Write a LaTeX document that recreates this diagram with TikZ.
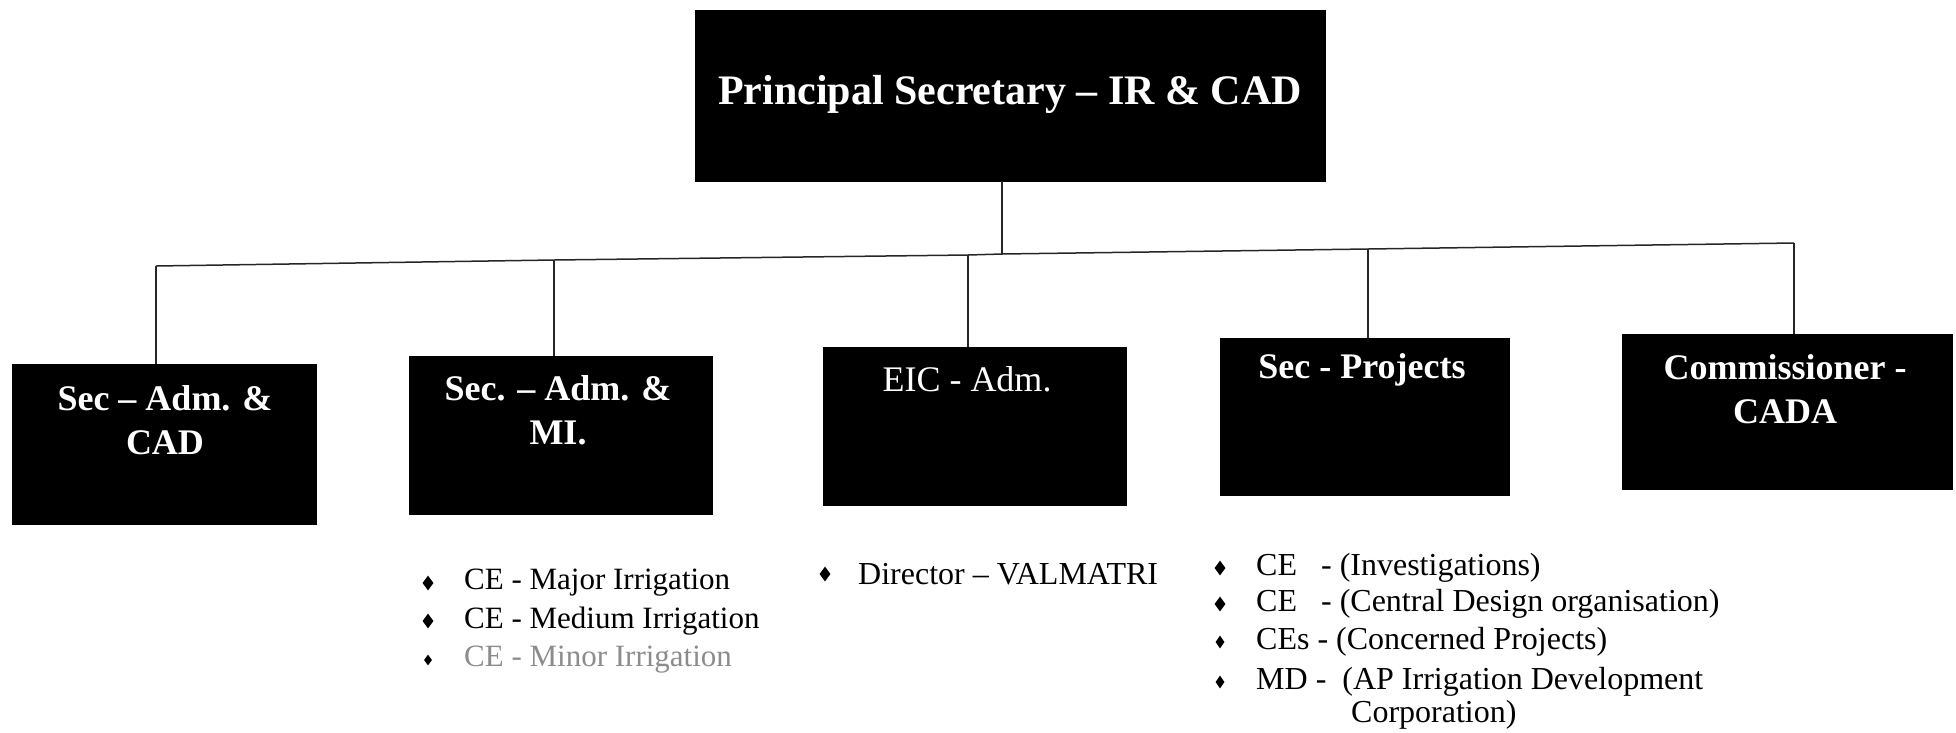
\documentclass[tikz,border=0pt]{standalone}
\usepackage{fontspec}
\setmainfont{Liberation Serif}
\usetikzlibrary{shapes.geometric,calc}
\begin{document}
\begin{tikzpicture}[x=1pt,y=-1pt,
 blk/.style={fill=black,draw=black,inner sep=0pt,anchor=north west},
 btxt/.style={text=white,font=\fontsize{36}{44}\selectfont\bfseries,align=center,inner sep=0pt},
 itm/.style={font=\fontsize{31}{36}\selectfont,anchor=west,inner sep=0pt},
 itmr/.style={itm,font=\fontsize{32}{36}\selectfont},
 bul/.style={diamond,fill=black,inner sep=0pt,minimum width=11pt,minimum height=15pt},
 wire/.style={draw=black!85,line width=1.5pt}]
\useasboundingbox (0,0) rectangle (1956,732);
% boxes
\node[blk,minimum width=630pt,minimum height=171pt] (top) at (695,10) {};
\node[blk,minimum width=304pt,minimum height=160pt] (b1) at (12,364) {};
\node[blk,minimum width=303pt,minimum height=158pt] (b2) at (409,356) {};
\node[blk,minimum width=303pt,minimum height=158pt] (b3) at (823,347) {};
\node[blk,minimum width=289pt,minimum height=157pt] (b4) at (1220,338) {};
\node[blk,minimum width=330pt,minimum height=155pt] (b5) at (1622,334) {};
% box texts
\node[btxt,font=\fontsize{42}{48}\selectfont\bfseries] (ttop) at (1010,94) {Principal Secretary -- IR \& CAD};
\node[btxt] (t1) at (165,420) {Sec -- Adm. \&\\CAD};
\node[btxt] (t2) at (558,410) {Sec. -- Adm. \&\\MI.};
\node[btxt,font=\fontsize{36}{44}\selectfont] (t3) at (967,379) {EIC - Adm.};
\node[btxt] (t4) at (1362,370) {Sec - Projects};
\node[btxt] (t5) at (1785,389) {Commissioner -\\CADA};
% connectors
\coordinate (j0) at (1002,254);
\coordinate (j1) at (156,266);
\coordinate (j2) at (554,260);
\coordinate (j3) at (968,255);
\coordinate (j4) at (1368,249);
\coordinate (j5) at (1794,243);
\draw[wire] (top.south -| j0) -- (j0);
\draw[wire] (j1) -- (j2) -- (j3) -- (j0) -- (j4) -- (j5);
\draw[wire] (j1) -- (j1 |- b1.north);
\draw[wire] (j2) -- (j2 |- b2.north);
\draw[wire] (j3) -- (j3 |- b3.north);
\draw[wire] (j4) -- (j4 |- b4.north);
\draw[wire] (j5) -- (j5 |- b5.north);
% lists
\node[bul] (p1) at (428,583) {};
\node[itm] (i1) at (464,583) {CE - Major Irrigation};
\node[bul] (p2) at (428,621) {};
\node[itm] (i2) at (464,621) {CE - Medium Irrigation};
\node[bul,minimum width=8pt,minimum height=11pt] (p3) at (428,660) {};
\node[itm,text=black!45] (i3) at (464,660) {CE - Minor Irrigation};
\node[bul] (p4) at (825,574) {};
\node[itmr] (i4) at (858,574) {Director -- VALMATRI};
\node[bul] (q1) at (1220,568) {};
\node[itmr] (k1) at (1256,568) {CE\ \ \ - (Investigations)};
\node[bul] (q2) at (1220,604) {};
\node[itmr] (k2) at (1256,604) {CE\ \ \ - (Central Design organisation)};
\node[bul,minimum width=9pt,minimum height=13pt] (q3) at (1220,642) {};
\node[itmr] (k3) at (1256,642) {CEs - (Concerned Projects)};
\node[bul,minimum width=9pt,minimum height=13pt] (q4) at (1220,682) {};
\node[itmr] (k4) at (1256,682) {MD -\ \ (AP Irrigation Development};
\node[itmr] (k5) at (1351,715) {Corporation)};
\end{tikzpicture}
\end{document}
